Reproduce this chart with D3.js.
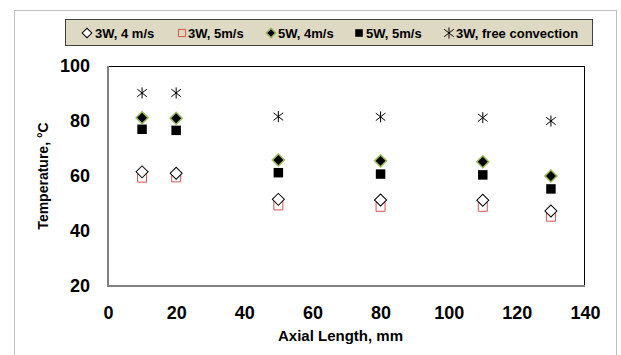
<!DOCTYPE html>
<html>
<head>
<meta charset="utf-8">
<script src="https://cdn.jsdelivr.net/npm/d3@7"></script>
<style>
  body { margin: 0; background: #fff; }
  text { font-family: "Liberation Sans", Arial, sans-serif; }
</style>
</head>
<body>
<svg id="chart" width="621" height="355"></svg>
<script>
// data
var axial = [10, 20, 50, 80, 110, 130];
var t_3w_4 = [61.5, 61, 51.5, 51.3, 51.2, 47.3];
var t_3w_5 = [59.4, 59.5, 49.3, 48.8, 48.8, 45.2];
var t_5w_4 = [81.2, 81, 65.8, 65.5, 65.2, 60];
var t_5w_5 = [77, 76.6, 61.2, 60.7, 60.4, 55.3];
var t_3w_free = [90.2, 90.2, 81.6, 81.5, 81.2, 80];
var series_names = ["3W, 4 m/s", "3W, 5m/s", "5W, 4m/s", "5W, 5m/s", "3W, free convection"];
var x_ticks = [0, 20, 40, 60, 80, 100, 120, 140];
var y_ticks = [20, 40, 60, 80, 100];

var margin = {top: 66, left: 108, right: 36, bottom: 69},
    width = 621 - margin.left - margin.right,
    height = 355 - margin.top - margin.bottom;

var svg = d3.select("#chart");

// outer frame
svg.append("rect")
  .attr("x", 14.5).attr("y", 10.5)
  .attr("width", 602).attr("height", 360)
  .attr("fill", "none").attr("stroke", "#c0c0c0");

var x = d3.scaleLinear().domain([0, 140]).range([0, width]);
var y = d3.scaleLinear().domain([20, 100]).range([height, 0]);

var chart = svg.append("g")
  .attr("transform", "translate(" + margin.left + "," + margin.top + ")");

// plot frame: top/right thin black, left/bottom grey
chart.append("line").attr("x1", 0).attr("x2", width).attr("y1", 0.5).attr("y2", 0.5)
  .attr("stroke", "#000").attr("stroke-width", 1);
chart.append("line").attr("x1", width - 0.5).attr("x2", width - 0.5).attr("y1", 0).attr("y2", height)
  .attr("stroke", "#000").attr("stroke-width", 1);
chart.append("line").attr("x1", 0).attr("x2", 0).attr("y1", 0).attr("y2", height + 1)
  .attr("stroke", "#808080").attr("stroke-width", 2);
chart.append("line").attr("x1", 0).attr("x2", width).attr("y1", height).attr("y2", height)
  .attr("stroke", "#808080").attr("stroke-width", 2);

// axes, labels only
var xAxis = d3.axisBottom(x).tickValues(x_ticks).tickSize(0).tickPadding(20);
var yAxis = d3.axisLeft(y).tickValues(y_ticks).tickSize(0).tickPadding(18);

chart.append("g")
  .attr("class", "x axis")
  .attr("transform", "translate(0," + height + ")")
  .call(xAxis);
chart.append("g")
  .attr("class", "y axis")
  .call(yAxis);
chart.selectAll(".axis .domain").remove();
chart.selectAll(".axis text")
  .attr("font-size", 18).attr("font-weight", "bold").attr("fill", "#000");

svg.append("text")
  .attr("transform", "translate(48," + (margin.top + height / 2) + ") rotate(-90)")
  .attr("text-anchor", "middle")
  .attr("font-size", 14).attr("font-weight", "bold")
  .text("Temperature, °C");

svg.append("text")
  .attr("x", margin.left + width / 2 - 6).attr("y", 341)
  .attr("text-anchor", "middle")
  .attr("font-size", 15).attr("font-weight", "bold")
  .text("Axial Length, mm");

// marker shapes
function asterisk(r) {
  var p = d3.path();
  p.moveTo(0, -r); p.lineTo(0, r);
  var a = r * 0.87;
  p.moveTo(-a, -r / 2 - 1); p.lineTo(a, r / 2 + 1);
  p.moveTo(-a, r / 2 + 1); p.lineTo(a, -r / 2 - 1);
  return p.toString();
}
var styles = [
  {shape: "diamond", size: 72, fill: "#fff", stroke: "#000", sw: 1},
  {shape: "square", size: 81, fill: "none", stroke: "#d9534f", sw: 1},
  {shape: "diamond", size: 72, fill: "#000", stroke: "#9bbb59", sw: 1.5},
  {shape: "square", size: 90, fill: "#000", stroke: "#000", sw: 0},
  {shape: "asterisk", size: 5.5, fill: "none", stroke: "#000", sw: 1}
];
var series = [t_3w_4, t_3w_5, t_5w_4, t_5w_5, t_3w_free];

function draw_marker(g, st, scale) {
  if (st.shape == "asterisk") {
    g.append("path").attr("d", asterisk(st.size * scale));
  } else {
    g.append("path")
      .attr("d", d3.symbol(d3.symbolSquare, st.size * scale * scale)())
      .attr("transform", st.shape == "diamond" ? "rotate(45)" : null);
  }
  g.selectAll("path")
    .attr("fill", st.fill).attr("stroke", st.stroke).attr("stroke-width", st.sw);
}

// draw order: filled first then hollow on top, as in the picture
[3, 2, 4, 1, 0].forEach(function(s) {
  chart.selectAll(".pt" + s)
    .data(axial)
    .enter().append("g")
    .attr("class", "pt" + s)
    .attr("transform", function(d, i) { return "translate(" + x(d) + "," + y(series[s][i]) + ")"; })
    .each(function() { draw_marker(d3.select(this), styles[s], 1); });
});

// legend
var legend = svg.append("g");
legend.append("rect")
  .attr("x", 65.5).attr("y", 19.5).attr("width", 527).attr("height", 26)
  .attr("fill", "#ddd9c3").attr("stroke", "#404040").attr("stroke-width", 1);
var leg_marker_x = [87, 182, 271, 359, 449];
var leg_text_x = [95, 188, 278, 366, 456];
series_names.forEach(function(name, i) {
  var g = legend.append("g").attr("transform", "translate(" + leg_marker_x[i] + ",33)");
  draw_marker(g, styles[i], i == 4 ? 1 : 0.8);
  legend.append("text")
    .attr("x", leg_text_x[i]).attr("y", 37.5)
    .attr("font-size", 13).attr("font-weight", "bold")
    .attr("fill", "#000")
    .text(name);
});
</script>
</body>
</html>
